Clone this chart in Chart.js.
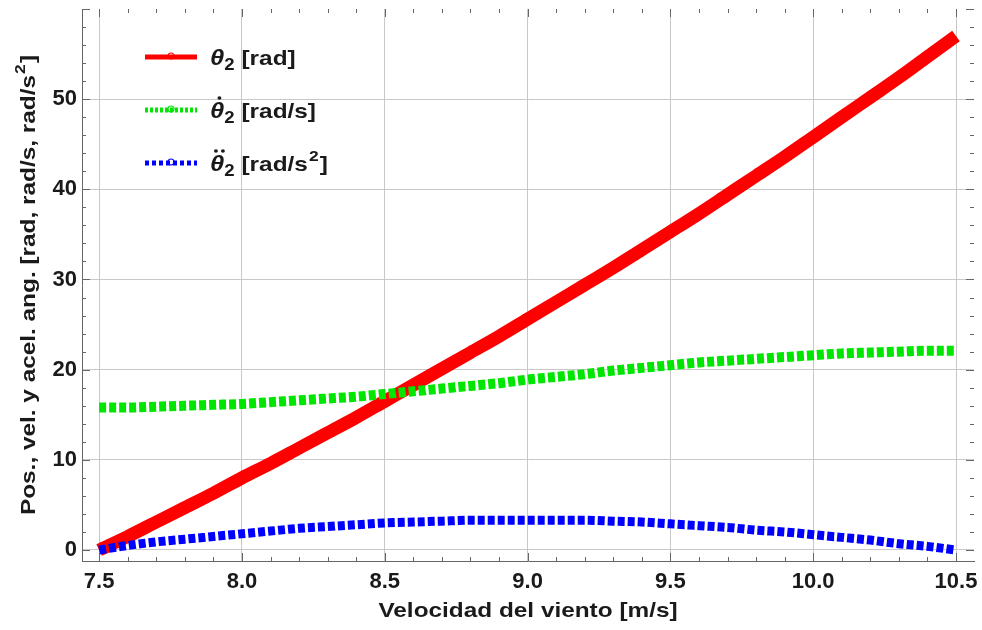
<!DOCTYPE html>
<html>
<head>
<meta charset="utf-8">
<script src="https://cdn.jsdelivr.net/npm/chart.js@4.4.1/dist/chart.umd.min.js"></script>
<style>
  html, body { margin: 0; padding: 0; background: #fff; }
  #wrap { width: 982px; height: 630px; }
</style>
</head>
<body>
<div id="wrap"><canvas id="chart-area" width="982" height="630"></canvas></div>
<script>
// wind speed [m/s]
var windSpeed = [7.5, 7.6, 7.7, 7.8, 7.9, 8.0, 8.1, 8.2, 8.3, 8.4, 8.5, 8.6, 8.7, 8.8, 8.9, 9.0,
                 9.1, 9.2, 9.3, 9.4, 9.5, 9.6, 9.7, 9.8, 9.9, 10.0, 10.1, 10.2, 10.3, 10.4, 10.5];
// theta2 [rad]
var theta = [0.0, 1.5, 3.1, 4.7, 6.3, 8.0, 9.6, 11.3, 13.0, 14.7, 16.5, 18.3, 20.1, 21.9, 23.7, 25.6,
             27.5, 29.4, 31.3, 33.3, 35.3, 37.3, 39.4, 41.5, 43.6, 45.8, 48.0, 50.2, 52.4, 54.7, 57.0];
// theta2 dot [rad/s]
var thetaDot = [15.8, 15.8, 15.9, 16.0, 16.1, 16.2, 16.4, 16.6, 16.8, 17.0, 17.3, 17.6, 17.9, 18.2, 18.5, 18.9,
                19.2, 19.5, 19.9, 20.2, 20.5, 20.8, 21.0, 21.2, 21.4, 21.6, 21.8, 21.9, 22.0, 22.1, 22.1];
// theta2 double dot [rad/s^2]
var thetaDDot = [0.0, 0.5, 0.9, 1.2, 1.5, 1.8, 2.1, 2.4, 2.6, 2.8, 3.0, 3.1, 3.2, 3.3, 3.3, 3.3,
                 3.3, 3.3, 3.2, 3.1, 2.9, 2.7, 2.5, 2.2, 2.0, 1.7, 1.4, 1.1, 0.7, 0.4, 0.0];

var xTicks = [7.5, 8.0, 8.5, 9.0, 9.5, 10.0, 10.5];
var yTicks = [0, 10, 20, 30, 40, 50];

var xTitle = 'Velocidad del viento [m/s]';
var yTitle = ['Pos., vel. y acel. ang. [rad, rad/s, rad/s', '2', ']'];  // text, superscript, text

function pts(ys){
  return windSpeed.map(function(x, i){ return {x: x, y: ys[i]}; });
}

var FONT = '"Liberation Sans", Arial, sans-serif';
var STRETCH = 1.16;   // the original text is a bit wider than Arial

// inward tick marks on all four sides + axis titles + legend
var extras = {
  id: 'extras',
  afterDraw: function(chart){
    var ctx = chart.ctx, a = chart.chartArea;
    var xs = chart.scales.x, ys = chart.scales.y;
    ctx.save();
    ctx.strokeStyle = '#666';
    ctx.lineWidth = 1;
    ctx.beginPath();
    for (var v = 7.5; v <= 10.51; v += 0.1){
      var px = Math.round(xs.getPixelForValue(v)) + 0.5;
      var major = Math.abs(v*2 - Math.round(v*2)) < 0.01;
      var len = major ? 8 : 4;
      ctx.moveTo(px, a.bottom); ctx.lineTo(px, a.bottom - len);
      ctx.moveTo(px, a.top); ctx.lineTo(px, a.top + len);
    }
    for (var w = 0; w <= 60; w += 2){
      var py = Math.round(ys.getPixelForValue(w)) + 0.5;
      if (py < a.top || py > a.bottom) continue;
      var len2 = (w % 10 == 0) ? 8 : 4;
      ctx.moveTo(a.left, py); ctx.lineTo(a.left + len2, py);
      ctx.moveTo(a.right, py); ctx.lineTo(a.right - len2, py);
    }
    ctx.stroke();

    // axis titles
    ctx.fillStyle = '#1a1a1a';
    ctx.font = 'bold 21px ' + FONT;
    ctx.textAlign = 'center';
    ctx.textBaseline = 'middle';
    ctx.save();
    ctx.translate((a.left + a.right)/2, 611);
    ctx.scale(STRETCH, 1);
    ctx.fillText(xTitle, 0, 0);
    ctx.restore();

    ctx.save();
    ctx.translate(27, (a.top + a.bottom)/2);
    ctx.rotate(-Math.PI/2);
    ctx.scale(STRETCH, 1);
    ctx.textAlign = 'left';
    ctx.textBaseline = 'alphabetic';
    ctx.font = 'bold 21px ' + FONT;
    var w0 = ctx.measureText(yTitle[0]).width, w2 = ctx.measureText(yTitle[2]).width;
    ctx.font = 'bold 15px ' + FONT;
    var w1 = ctx.measureText(yTitle[1]).width + 2;
    var start = -(w0 + w1 + w2)/2;
    ctx.font = 'bold 21px ' + FONT;
    ctx.fillText(yTitle[0], start, 8);
    ctx.fillText(yTitle[2], start + w0 + w1, 8);
    ctx.font = 'bold 15px ' + FONT;
    ctx.fillText(yTitle[1], start + w0 + 1, -2);
    ctx.restore();

    // legend
    var items = [
      {color: 'rgb(255,0,0)', dash: [], dots: 0, unit: '[rad]', y: 57},
      {color: 'rgb(0,230,0)', dash: [3,2], dots: 1, unit: '[rad/s]', y: 110},
      {color: 'rgb(0,0,255)', dash: [4,3], dots: 2, unit: '[rad/s', sup: '2', y: 163}
    ];
    items.forEach(function(it){
      ctx.save();
      ctx.strokeStyle = it.color;
      ctx.lineWidth = 5;
      ctx.setLineDash(it.dash);
      ctx.beginPath();
      ctx.moveTo(145, it.y); ctx.lineTo(197, it.y);
      ctx.stroke();
      ctx.setLineDash([]);
      ctx.lineWidth = 1.2;
      ctx.beginPath();
      ctx.arc(171, it.y - 1, 3, 0, Math.PI*2);
      ctx.stroke();
      ctx.restore();

      ctx.save();
      ctx.translate(210, it.y + 8);
      ctx.scale(STRETCH, 1);
      ctx.textAlign = 'left';
      ctx.textBaseline = 'alphabetic';
      ctx.fillStyle = '#1a1a1a';
      ctx.font = 'italic bold 22px ' + FONT;
      ctx.fillText('\u03B8', 0, 0);
      var tw = ctx.measureText('\u03B8').width;
      // dots above theta
      if (it.dots == 1){
        ctx.beginPath(); ctx.arc(tw/2 + 2, -20, 1.7, 0, Math.PI*2); ctx.fill();
      } else if (it.dots == 2){
        ctx.beginPath(); ctx.arc(tw/2 - 1, -20, 1.7, 0, Math.PI*2); ctx.fill();
        ctx.beginPath(); ctx.arc(tw/2 + 5, -20, 1.7, 0, Math.PI*2); ctx.fill();
      }
      ctx.font = 'bold 16px ' + FONT;
      ctx.fillText('2', tw, 5);
      var sx = tw + ctx.measureText('2').width + 6;
      ctx.font = 'bold 21px ' + FONT;
      ctx.fillText(it.unit, sx, 0);
      var ux = sx + ctx.measureText(it.unit).width;
      if (it.sup){
        ctx.font = 'bold 15px ' + FONT;
        ctx.fillText(it.sup, ux + 1, -10);
        ux += ctx.measureText(it.sup).width + 2;
        ctx.font = 'bold 21px ' + FONT;
        ctx.fillText(']', ux, 0);
      }
      ctx.restore();
    });
    ctx.restore();
  }
};

var config = {
  type: 'line',
  data: {
    datasets: [{
      label: 'theta2 [rad]',
      data: pts(theta),
      borderColor: 'rgb(255,0,0)',
      borderWidth: 13,
      borderCapStyle: 'butt',
      cubicInterpolationMode: 'monotone',
      pointRadius: 0,
      order: 2
    },{
      label: 'theta2 dot [rad/s]',
      data: pts(thetaDot),
      borderColor: 'rgb(0,230,0)',
      borderWidth: 10,
      borderDash: [7, 3],
      borderCapStyle: 'butt',
      cubicInterpolationMode: 'monotone',
      pointRadius: 0,
      order: 1
    },{
      label: 'theta2 ddot [rad/s2]',
      data: pts(thetaDDot),
      borderColor: 'rgb(0,0,255)',
      borderWidth: 9,
      borderDash: [7, 3],
      borderCapStyle: 'butt',
      cubicInterpolationMode: 'monotone',
      pointRadius: 0,
      order: 0
    }]
  },
  options: {
    responsive: false,
    animation: false,
    events: [],
    layout: { padding: { top: 9, right: 8, left: 0, bottom: 0 } },
    plugins: { legend: { display: false }, tooltip: { enabled: false } },
    scales: {
      x: {
        type: 'linear',
        min: 7.44,
        max: 10.563,
        afterBuildTicks: function(s){ s.ticks = xTicks.map(function(v){ return {value: v}; }); },
        afterFit: function(s){ s.height = 69; s.paddingLeft = 0; s.paddingRight = 0; },
        grid: { color: '#c8c8c8', drawTicks: false },
        border: { color: '#666' },
        ticks: {
          padding: 8,
          color: '#1a1a1a',
          font: { family: FONT, size: 22, weight: 'bold' },
          callback: function(v){ return Number(v).toFixed(1); }
        }
      },
      y: {
        type: 'linear',
        min: -1.22,
        max: 60,
        afterBuildTicks: function(s){ s.ticks = yTicks.map(function(v){ return {value: v}; }); },
        afterFit: function(s){ s.width = 82; s.paddingTop = 0; s.paddingBottom = 0; },
        grid: { color: '#c8c8c8', drawTicks: false },
        border: { color: '#666' },
        ticks: {
          padding: 5,
          color: '#1a1a1a',
          font: { family: FONT, size: 22, weight: 'bold' }
        }
      }
    }
  },
  plugins: [extras]
};

var ctx = document.getElementById('chart-area').getContext('2d');
window.myChart = new Chart(ctx, config);
</script>
</body>
</html>
